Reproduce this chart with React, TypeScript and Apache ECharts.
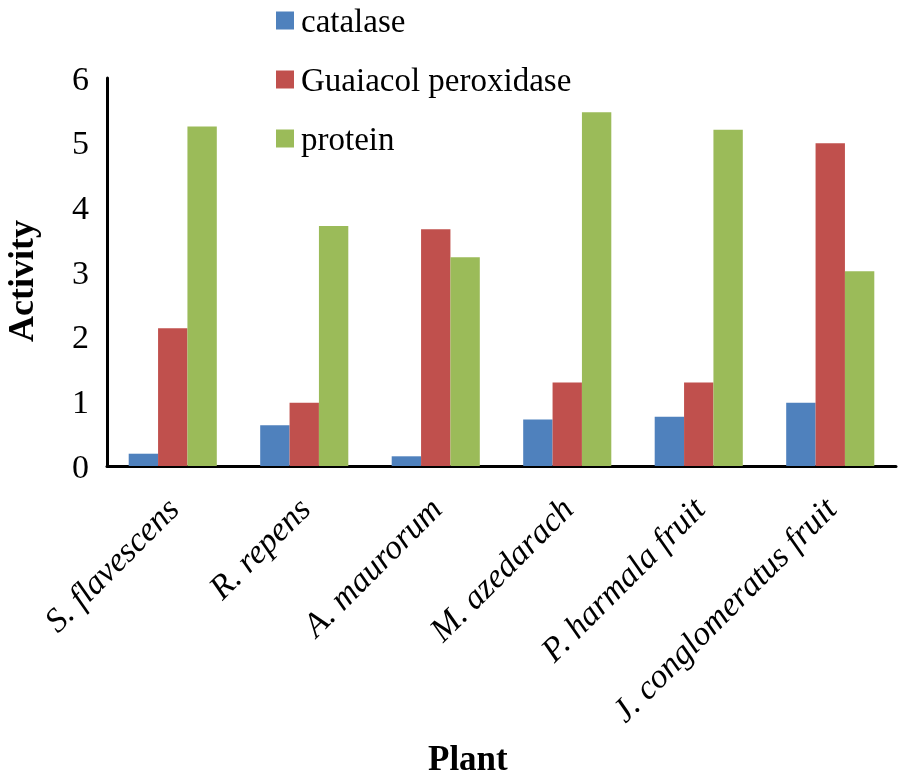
import React, { useEffect, useRef } from "react";
import * as echarts from "echarts";

const categories = [
  "S. flavescens",
  "R. repens",
  "A. maurorum",
  "M. azedarach",
  "P. harmala fruit",
  "J. conglomeratus fruit",
];
const catalase = [0.19, 0.63, 0.15, 0.72, 0.76, 0.98];
const guaiacolPeroxidase = [2.13, 0.98, 3.66, 1.29, 1.29, 4.99];
const protein = [5.25, 3.71, 3.23, 5.47, 5.2, 3.01];
const seriesNames = ["catalase", "Guaiacol peroxidase", "protein"];
const colors = ["#4F81BD", "#C0504D", "#9BBB59"];

const FONT = "'Liberation Serif', 'Times New Roman', serif";

export default function App() {
  const ref = useRef<HTMLDivElement>(null);
  useEffect(() => {
    if (!ref.current) return;
    const chart = echarts.init(ref.current, null, { renderer: "svg" });
    const data = [catalase, guaiacolPeroxidase, protein];
    chart.setOption({
      animation: false,
      color: colors,
      textStyle: { fontFamily: FONT },
      legend: {
        orient: "vertical",
        left: 271,
        top: -1,
        itemWidth: 18,
        itemHeight: 18,
        itemGap: 26,
        icon: "rect",
        data: seriesNames,
        textStyle: {
          fontFamily: FONT,
          fontSize: 33,
          color: "#000",
          lineHeight: 30,
          padding: [0, 0, 0, 2],
        },
      },
      grid: {
        left: 107,
        right: 2,
        top: 78,
        bottom: 316,
        containLabel: false,
        outerBoundsMode: "none",
      },
      xAxis: {
        type: "category",
        data: categories,
        axisLine: { lineStyle: { color: "#000", width: 3 } },
        axisTick: { show: false },
        axisLabel: {
          rotate: 45,
          interval: 0,
          margin: 37,
          fontFamily: FONT,
          fontStyle: "italic",
          fontSize: 34,
          color: "#000",
        },
      },
      yAxis: {
        type: "value",
        min: 0,
        max: 6,
        interval: 1,
        name: "Activity",
        nameLocation: "middle",
        nameGap: 68,
        nameTextStyle: {
          fontFamily: FONT,
          fontWeight: "bold",
          fontSize: 36,
          color: "#000",
          padding: [0, 18, 0, 0],
        },
        axisLine: { show: true, lineStyle: { color: "#000", width: 3 } },
        axisTick: { show: false },
        splitLine: { show: false },
        axisLabel: {
          margin: 18,
          fontFamily: FONT,
          fontSize: 34,
          color: "#000",
        },
      },
      graphic: [
        {
          type: "text",
          left: 428,
          top: 741,
          style: {
            text: "Plant",
            fontFamily: FONT,
            fontWeight: "bold",
            fontSize: 35,
            fill: "#000",
          },
        },
      ],
      series: seriesNames.map((name, i) => ({
        name,
        type: "bar",
        data: data[i],
        barGap: "0%",
        barCategoryGap: "33%",
        itemStyle: { color: colors[i] },
      })),
    });
    return () => chart.dispose();
  }, []);
  return (
    <div
      ref={ref}
      style={{ position: "fixed", left: 0, top: 0, width: 898, height: 782 }}
    />
  );
}
